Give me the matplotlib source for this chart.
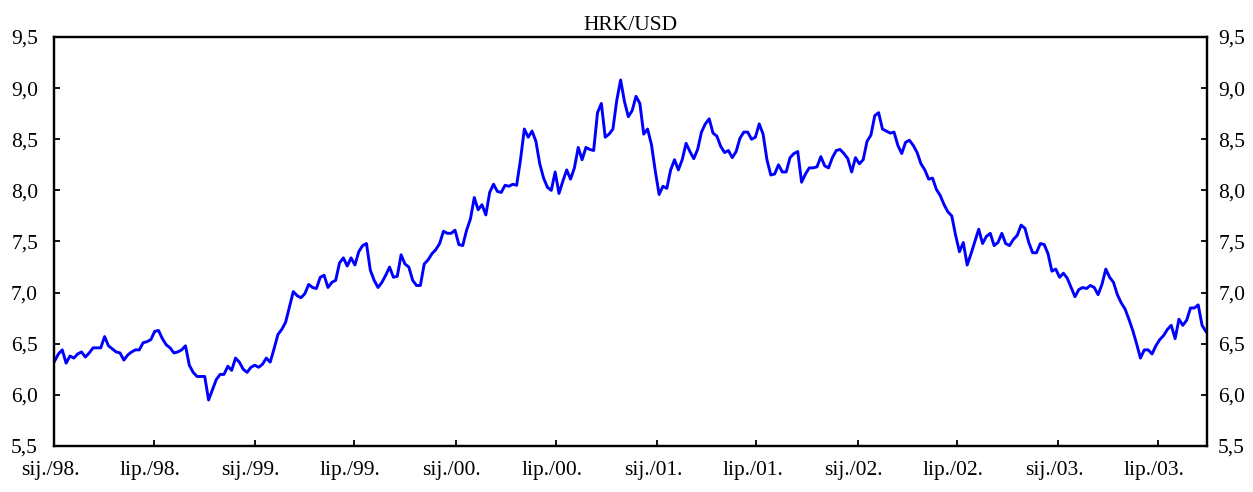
import matplotlib
matplotlib.use("Agg")
import matplotlib.pyplot as plt
import matplotlib.transforms as mtransforms
import pandas as pd
from matplotlib.ticker import FuncFormatter

# weekly HRK/USD readings, first Friday of 1998 onwards
hrk_usd = [
    # 1998
    6.33, 6.40, 6.44, 6.31, 6.38, 6.36, 6.40, 6.42, 6.37, 6.41,
    6.46, 6.46, 6.46, 6.57, 6.48, 6.45, 6.42, 6.41, 6.34, 6.39,
    6.42, 6.44, 6.44, 6.51, 6.52, 6.54, 6.62, 6.63, 6.55, 6.49,
    6.46, 6.41, 6.42, 6.44, 6.48, 6.29, 6.22, 6.18, 6.18, 6.18,
    5.95, 6.05, 6.15, 6.20, 6.20, 6.28, 6.24, 6.36, 6.32, 6.25,
    6.22,
    # 1999
    6.27, 6.29, 6.27, 6.30, 6.36, 6.32, 6.45, 6.59, 6.64, 6.71,
    6.86, 7.01, 6.97, 6.95, 6.99, 7.08, 7.05, 7.04, 7.15, 7.17,
    7.05, 7.10, 7.12, 7.29, 7.34, 7.26, 7.34, 7.27, 7.40, 7.46,
    7.48, 7.22, 7.12, 7.05, 7.10, 7.17, 7.25, 7.15, 7.16, 7.37,
    7.28, 7.25, 7.12, 7.07, 7.07, 7.28, 7.32, 7.38, 7.42, 7.48,
    7.60,
    # 2000
    7.58, 7.58, 7.61, 7.47, 7.46, 7.61, 7.72, 7.93, 7.81, 7.86,
    7.76, 7.98, 8.06, 7.99, 7.98, 8.05, 8.04, 8.06, 8.05, 8.30,
    8.60, 8.52, 8.58, 8.48, 8.26, 8.12, 8.03, 8.00, 8.18, 7.97,
    8.09, 8.20, 8.11, 8.22, 8.42, 8.30, 8.42, 8.40, 8.39, 8.76,
    8.85, 8.52, 8.55, 8.60, 8.88, 9.08, 8.87, 8.72, 8.78, 8.92,
    8.85,
    # 2001
    8.55, 8.60, 8.45, 8.19, 7.96, 8.04, 8.02, 8.20, 8.30, 8.20,
    8.30, 8.46, 8.38, 8.31, 8.40, 8.57, 8.65, 8.70, 8.56, 8.53,
    8.43, 8.37, 8.39, 8.32, 8.38, 8.51, 8.57, 8.57, 8.50, 8.52,
    8.65, 8.55, 8.30, 8.15, 8.16, 8.25, 8.18, 8.18, 8.32, 8.36,
    8.38, 8.08, 8.16, 8.22, 8.22, 8.23, 8.33, 8.24, 8.22, 8.32,
    # 2002
    8.39, 8.40, 8.36, 8.31, 8.18, 8.32, 8.26, 8.30, 8.48, 8.54,
    8.73, 8.76, 8.60, 8.58, 8.56, 8.57, 8.44, 8.36, 8.47, 8.49,
    8.44, 8.37, 8.26, 8.20, 8.11, 8.12, 8.01, 7.95, 7.86, 7.79,
    7.75, 7.56, 7.40, 7.49, 7.27, 7.38, 7.50, 7.62, 7.48, 7.55,
    7.58, 7.46, 7.49, 7.58, 7.48, 7.46, 7.52, 7.56, 7.66, 7.63,
    7.49,
    # 2003
    7.39, 7.39, 7.48, 7.47, 7.38, 7.21, 7.23, 7.15, 7.19, 7.14,
    7.05, 6.96, 7.03, 7.05, 7.04, 7.07, 7.05, 6.98, 7.08, 7.23,
    7.15, 7.10, 6.98, 6.90, 6.84, 6.74, 6.63, 6.50, 6.36, 6.44,
    6.44, 6.40, 6.48, 6.54, 6.58, 6.64, 6.68, 6.55, 6.74, 6.68,
    6.73, 6.85, 6.85, 6.88, 6.68, 6.62,
]
dates = pd.date_range("1998-01-02", periods=len(hrk_usd), freq="7D")

tick_dates = pd.to_datetime([
    "1998-01-01", "1998-07-01", "1999-01-01", "1999-07-01",
    "2000-01-01", "2000-07-01", "2001-01-01", "2001-07-01",
    "2002-01-01", "2002-07-01", "2003-01-01", "2003-07-01",
])
tick_labels = [
    "sij./98.", "lip./98.", "sij./99.", "lip./99.",
    "sij./00.", "lip./00.", "sij./01.", "lip./01.",
    "sij./02.", "lip./02.", "sij./03.", "lip./03.",
]
y_ticks = [5.5, 6.0, 6.5, 7.0, 7.5, 8.0, 8.5, 9.0, 9.5]

plt.rcParams["font.family"] = ["Liberation Serif", "DejaVu Serif"]

comma = FuncFormatter(lambda v, p: f"{v:.1f}".replace(".", ","))

fig = plt.figure(figsize=(12.53, 4.92), dpi=100)
ax = fig.add_axes([0.0431, 0.0935, 0.9202, 0.8313])

ax.plot(dates, hrk_usd, color="#0000FF", lw=2.1, solid_joinstyle="round")

ax.set_xlim(pd.Timestamp("1998-01-01"), dates[-1] + pd.Timedelta(days=2))
ax.set_ylim(5.5, 9.5)
ax.set_xticks(tick_dates)
ax.set_xticklabels(tick_labels)
ax.set_yticks(y_ticks)
ax.yaxis.set_major_formatter(comma)

ax.tick_params(axis="x", direction="in", length=4, width=1.3, pad=10.5, labelsize=15.5)
ax.tick_params(axis="y", direction="in", length=4, width=1.3, pad=11.5, labelsize=15.5)
# labels sit a little left of their ticks in the original
shift = mtransforms.ScaledTranslation(-4 / 100, 0, fig.dpi_scale_trans)
for lab in ax.get_xticklabels():
    lab.set_transform(lab.get_transform() + shift)

# right-hand copy of the value axis
ax2 = ax.twinx()
ax2.set_ylim(ax.get_ylim())
ax2.set_yticks(y_ticks)
ax2.yaxis.set_major_formatter(comma)
ax2.tick_params(axis="y", direction="in", length=4, width=1.3, pad=8, labelsize=15.5)

for a in (ax, ax2):
    for s in a.spines.values():
        s.set_linewidth(1.6)

ax.set_title("HRK/USD", fontsize=15.5, pad=5)

fig.savefig("out.png", dpi=100)
